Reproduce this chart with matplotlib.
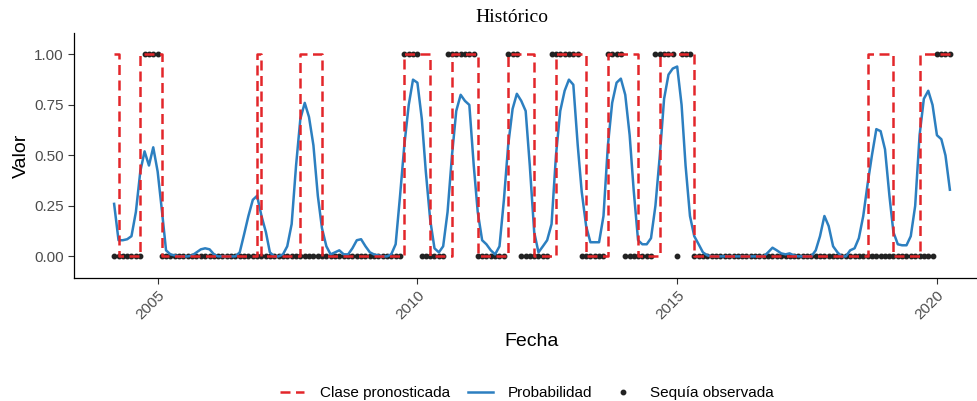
import numpy as np
import pandas as pd
import matplotlib
matplotlib.use("Agg")
import matplotlib.pyplot as plt
from matplotlib.lines import Line2D

# serie mensual 2004-03 .. 2020-04
fechas = pd.date_range("2004-03-01", "2020-04-01", freq="MS")

probabilidad = [
    0.26, 0.08, 0.08, 0.085, 0.10, 0.22, 0.42, 0.52, 0.45, 0.54, 0.42, 0.22,
    0.03, 0.01, 0.005, 0.0, 0.0, 0.0, 0.005, 0.02, 0.035, 0.04, 0.035, 0.01,
    0.0, 0.0, 0.0, 0.0, 0.0, 0.02, 0.11, 0.2, 0.28, 0.3, 0.2, 0.12,
    0.02, 0.0, 0.0, 0.01, 0.05, 0.16, 0.45, 0.68, 0.76, 0.69, 0.55, 0.3,
    0.14, 0.05, 0.01, 0.02, 0.03, 0.01, 0.01, 0.04, 0.08, 0.085, 0.05, 0.02,
    0.01, 0.005, 0.0, 0.0, 0.01, 0.06, 0.3, 0.55, 0.75, 0.875, 0.86, 0.68,
    0.42, 0.18, 0.04, 0.02, 0.05, 0.22, 0.5, 0.72, 0.80, 0.77, 0.75, 0.45,
    0.22, 0.08, 0.06, 0.03, 0.01, 0.05, 0.28, 0.55, 0.73, 0.805, 0.77, 0.72,
    0.45, 0.12, 0.02, 0.05, 0.08, 0.16, 0.5, 0.72, 0.82, 0.875, 0.85, 0.55,
    0.32, 0.15, 0.07, 0.07, 0.07, 0.2, 0.55, 0.76, 0.86, 0.88, 0.80, 0.6,
    0.33, 0.08, 0.06, 0.06, 0.09, 0.25, 0.5, 0.78, 0.9, 0.93, 0.94, 0.75,
    0.45, 0.2, 0.1, 0.06, 0.02, 0.005, 0.0, 0.0, 0.0, 0.0, 0.0, 0.0,
    0.0, 0.0, 0.0, 0.0, 0.0, 0.0, 0.0, 0.02, 0.043, 0.03, 0.015, 0.01,
    0.015, 0.005, 0.0, 0.0, 0.0, 0.0, 0.03, 0.1, 0.2, 0.15, 0.05, 0.02,
    0.0, 0.0, 0.03, 0.04, 0.09, 0.2, 0.36, 0.5, 0.63, 0.62, 0.53, 0.3,
    0.12, 0.06, 0.055, 0.055, 0.1, 0.25, 0.6, 0.78, 0.82, 0.75, 0.6, 0.58,
    0.5, 0.33,
]

clase_pronosticada = [
    1, 0, 0, 0, 0, 0, 1, 1, 1, 1, 1, 0,
    0, 0, 0, 0, 0, 0, 0, 0, 0, 0, 0, 0,
    0, 0, 0, 0, 0, 0, 0, 0, 0, 1, 0, 0,
    0, 0, 0, 0, 0, 0, 0, 1, 1, 1, 1, 1,
    0, 0, 0, 0, 0, 0, 0, 0, 0, 0, 0, 0,
    0, 0, 0, 0, 0, 0, 0, 1, 1, 1, 1, 1,
    1, 0, 0, 0, 0, 0, 1, 1, 1, 1, 1, 1,
    0, 0, 0, 0, 0, 0, 0, 1, 1, 1, 1, 1,
    1, 0, 0, 0, 0, 0, 1, 1, 1, 1, 1, 1,
    1, 0, 0, 0, 0, 0, 1, 1, 1, 1, 1, 1,
    1, 0, 0, 0, 0, 0, 1, 1, 1, 1, 1, 1,
    1, 1, 0, 0, 0, 0, 0, 0, 0, 0, 0, 0,
    0, 0, 0, 0, 0, 0, 0, 0, 0, 0, 0, 0,
    0, 0, 0, 0, 0, 0, 0, 0, 0, 0, 0, 0,
    0, 0, 0, 0, 0, 0, 1, 1, 1, 1, 1, 1,
    0, 0, 0, 0, 0, 0, 1, 1, 1, 1, 1, 1,
    1, 1,
]

sequia_observada = [
    0, 0, 0, 0, 0, 0, 0, 1, 1, 1, 1, 0,
    0, 0, 0, 0, 0, 0, 0, 0, 0, 0, 0, 0,
    0, 0, 0, 0, 0, 0, 0, 0, 0, 0, 0, 0,
    0, 0, 0, 0, 0, 0, 0, 0, 0, 0, 0, 0,
    0, 0, 0, 0, 0, 0, 0, 0, 0, 0, 0, 0,
    0, 0, 0, 0, 0, 0, 0, 1, 1, 1, 1, 0,
    0, 0, 0, 0, 0, 1, 1, 1, 1, 1, 1, 1,
    0, 0, 0, 0, 0, 0, 0, 1, 1, 1, 0, 0,
    0, 0, 0, 0, 0, 1, 1, 1, 1, 1, 1, 1,
    0, 0, 0, 0, 0, 0, 1, 1, 1, 1, 0, 0,
    0, 0, 0, 0, 0, 1, 1, 1, 1, 1, 0, 1,
    1, 1, 0, 0, 0, 0, 0, 0, 0, 0, 0, 0,
    0, 0, 0, 0, 0, 0, 0, 0, 0, 0, 0, 0,
    0, 0, 0, 0, 0, 0, 0, 0, 0, 0, 0, 0,
    0, 0, 0, 0, 0, 0, 0, 0, 0, 0, 0, 0,
    0, 0, 0, 0, 0, 0, 0, 0, 0, 0, 1, 1,
    1, 1,
]

anios_ticks = ["2005", "2010", "2015", "2020"]

rojo = "#E3262A"
azul = "#2C7FC0"
gris = "#4D4D4D"

plt.rcParams["font.family"] = ["Liberation Sans", "DejaVu Sans"]

fig = plt.figure(figsize=(9.77, 4.01), dpi=100)
ax = fig.add_axes([74 / 977, 1 - 278 / 401, 916 / 977, (278 - 32.8) / 401])

ax.plot(fechas, sequia_observada, linestyle="none", marker="o", markersize=3.2,
        color="#222222", zorder=1)
ax.plot(fechas, probabilidad, color=azul, linewidth=1.8, zorder=2)
ax.plot(fechas, clase_pronosticada, color=rojo, linewidth=1.8, dashes=(4, 2.2),
        drawstyle="steps-post", zorder=3)

rango = fechas[-1] - fechas[0]
ax.set_xlim(fechas[0] - 0.048 * rango, fechas[-1] + 0.048 * rango)
ax.set_ylim(-0.107, 1.107)

ax.set_xticks(pd.to_datetime([a + "-01-01" for a in anios_ticks]))
ax.set_xticklabels(anios_ticks, rotation=45, ha="right", va="top",
                   rotation_mode="anchor")
ax.set_yticks([0, 0.25, 0.5, 0.75, 1.0])
ax.set_yticklabels(["0.00", "0.25", "0.50", "0.75", "1.00"])
ax.tick_params(axis="both", colors="#333333", labelcolor=gris, labelsize=11,
               length=4, width=0.8)

for lado in ["top", "right"]:
    ax.spines[lado].set_visible(False)
for lado in ["left", "bottom"]:
    ax.spines[lado].set_linewidth(0.9)
    ax.spines[lado].set_color("black")

ax.set_xlabel("Fecha", fontsize=14, labelpad=8)
ax.set_ylabel("Valor", fontsize=14, labelpad=3)

fig.text(512 / 977, 1 - 18 / 401, "Histórico", fontsize=14,
         family=["Liberation Serif", "DejaVu Serif"], ha="center", va="center")

handles = [
    Line2D([], [], color=rojo, linewidth=1.8, dashes=(4, 2.2)),
    Line2D([], [], color=azul, linewidth=1.8),
    Line2D([], [], linestyle="none", marker="o", markersize=3.2, color="#222222"),
]
etiquetas = ["Clase pronosticada", "Probabilidad", "Sequía observada"]
fig.legend(handles, etiquetas, loc="center", ncol=3, frameon=False,
           bbox_to_anchor=(527 / 977, 1 - 393 / 401), fontsize=11,
           handlelength=1.6, columnspacing=1.2, handletextpad=1.0)

fig.savefig("out.png", dpi=100)
